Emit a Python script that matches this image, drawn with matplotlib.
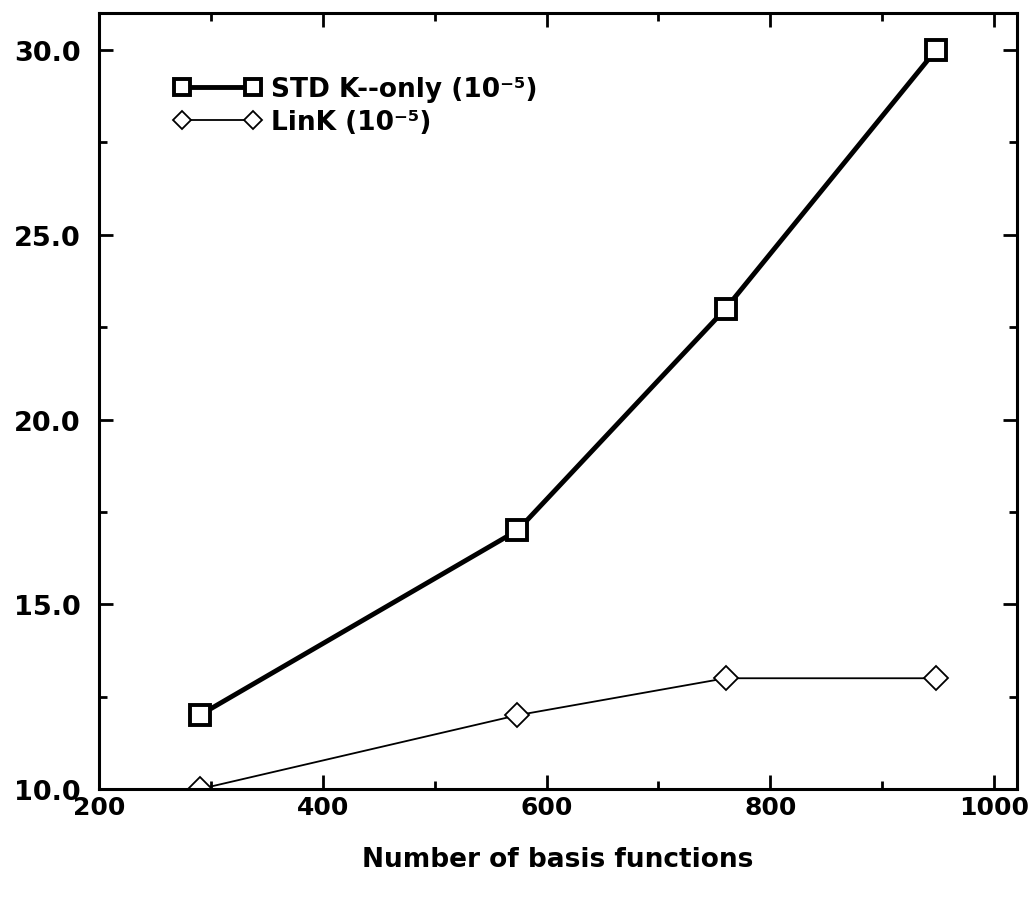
import matplotlib.pyplot as plt
from matplotlib.ticker import MultipleLocator, FormatStrFormatter

plt.rcParams['font.family'] = ['DejaVu Sans']
plt.rcParams['font.weight'] = 'bold'

# data
basis_functions = [290, 574, 760, 948]
std_k_only = [12.0, 17.0, 23.0, 30.0]
link = [10.0, 12.0, 13.0, 13.0]

fig = plt.figure(figsize=(10.30, 9.03), dpi=100)
ax = fig.add_axes([0.096, 0.125, 0.891, 0.8595])

ax.plot(basis_functions, std_k_only, color='black', linewidth=3.5,
        marker='s', markersize=15, markerfacecolor='white',
        markeredgewidth=2.8, label='STD K--only (10\u207b\u2075)')
ax.plot(basis_functions, link, color='black', linewidth=1.3,
        marker='D', markersize=12, markerfacecolor='white',
        markeredgewidth=1.3, label='LinK (10\u207b\u2075)')

ax.set_xlim(200, 1020)
ax.set_ylim(10, 31)
ax.xaxis.set_major_locator(MultipleLocator(200))
ax.xaxis.set_minor_locator(MultipleLocator(100))
ax.yaxis.set_major_locator(MultipleLocator(5))
ax.yaxis.set_minor_locator(MultipleLocator(2.5))
ax.yaxis.set_major_formatter(FormatStrFormatter('%.1f'))

ax.tick_params(which='both', direction='in', top=True, right=True, width=2)
ax.tick_params(which='major', length=10)
ax.tick_params(axis='y', which='major', pad=13, labelsize=19.5)
ax.tick_params(axis='x', which='major', pad=4, labelsize=18)
ax.tick_params(which='minor', length=6)
for s in ax.spines.values():
    s.set_linewidth(2.2)

ax.set_xlabel('Number of basis functions', fontsize=19, fontweight='bold',
              labelpad=20)

leg = ax.legend(loc='upper left', bbox_to_anchor=(0.07, 0.932), frameon=False,
                fontsize=19, handlelength=3.3, handletextpad=0.4,
                labelspacing=0.25, borderaxespad=0, numpoints=2,
                markerscale=0.8)

fig.savefig('out.png', dpi=100)
